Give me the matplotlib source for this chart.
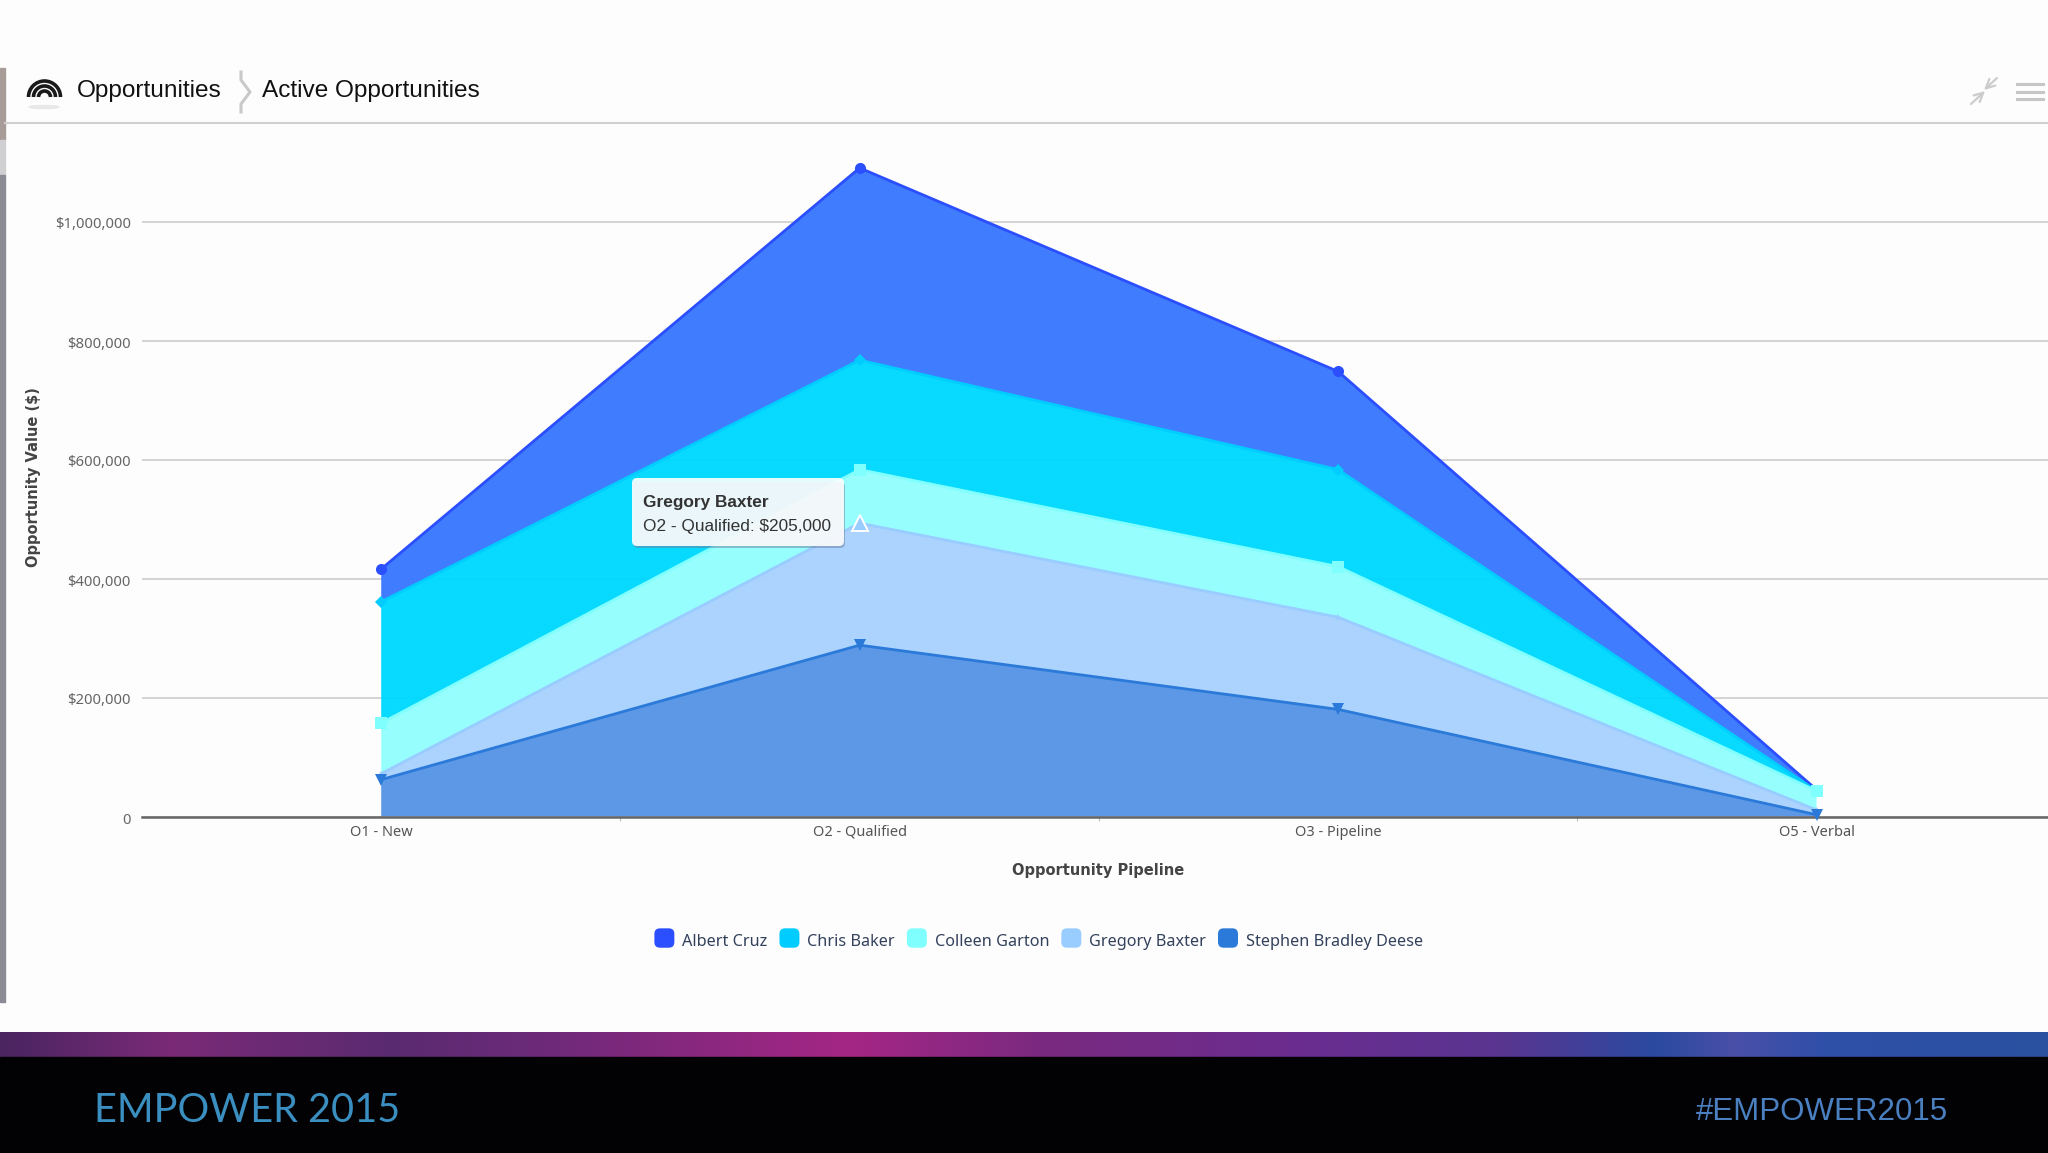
import matplotlib
matplotlib.use("Agg")
import matplotlib.pyplot as plt
import matplotlib.patches as mpatches
from matplotlib.colors import LinearSegmentedColormap
from matplotlib.legend_handler import HandlerBase
from matplotlib.ticker import FuncFormatter
from matplotlib.transforms import Affine2D
import numpy as np

# --- DATA ---
stages = ["O1 - New", "O2 - Qualified", "O3 - Pipeline", "O5 - Verbal"]
albert_cruz = [55000, 323000, 165000, 2000]
chris_baker = [204000, 184000, 163000, 0]
colleen_garton = [85000, 90000, 85000, 32000]
gregory_baxter = [10000, 205000, 155000, 8000]
stephen_deese = [62000, 288000, 180000, 3000]
y_ticks = [0, 200000, 400000, 600000, 800000, 1000000]

# bottom of the stack first
names = ["Stephen Bradley Deese", "Gregory Baxter", "Colleen Garton", "Chris Baker", "Albert Cruz"]
series = [stephen_deese, gregory_baxter, colleen_garton, chris_baker, albert_cruz]
line_colors = ["#2b7ad9", "#99ccff", "#80ffff", "#00ccff", "#2b4fff"]
fill_colors = ["#5795e6", "#a9d2ff", "#94ffff", "#00d8ff", "#3a78ff"]
markers = ["v", "^", "s", "D", "o"]
marker_sizes = [8, 4, 9, 6, 8]

band_colors = ["#4a2560", "#7b2a78", "#5a2a70", "#6a2a78", "#a52685", "#7a2a80",
               "#6a2d90", "#5a3590", "#2a4aa0", "#4a4fa8", "#2f50a8", "#2a50a0"]
band_stops = [0, 0.083, 0.19, 0.255, 0.415, 0.51, 0.638, 0.733, 0.81, 0.848, 0.893, 1]

W, H = 2048, 1153
chart_font = "Noto Sans"
head_font = "Liberation Sans"


class RoundHandle(HandlerBase):
    def create_artists(self, legend, orig, x, y, width, height, fontsize, trans):
        box = mpatches.FancyBboxPatch((x + 3, y), width - 6, height + 1,
                                      boxstyle="round,pad=2,rounding_size=4",
                                      facecolor=orig.get_facecolor(), edgecolor="none",
                                      transform=trans)
        return [box]


fig = plt.figure(figsize=(W / 100, H / 100), dpi=100, facecolor="#fdfdfd")

# page furniture, in pixel coordinates
bg = fig.add_axes([0, 0, 1, 1], zorder=0)
bg.axis("off")

bg.add_patch(mpatches.Rectangle((0, 1057), W, H - 1057, color="#020204"))
band = LinearSegmentedColormap.from_list("band", list(zip(band_stops, band_colors)))
bg.imshow(np.linspace(0, 1, 1024)[None, :], cmap=band, extent=(0, W, 1057, 1032), aspect="auto")
bg.set_xlim(0, W)
bg.set_ylim(H, 0)

bg.add_patch(mpatches.Rectangle((0, 68), 5, 72, color="#a89c98"))
bg.add_patch(mpatches.Rectangle((0, 140), 5, 35, color="#d0d0d2"))
bg.add_patch(mpatches.Rectangle((0, 175), 5, 827, color="#8b8b96"))

bg.plot([5, W], [122.5, 122.5], color="#cfcfcf", lw=1.5)
for r in [16, 11, 6]:
    bg.add_patch(mpatches.Arc((44.5, 97), r * 2, r * 2, theta1=180, theta2=360, color="#1a1a1a", lw=2.6))
bg.add_patch(mpatches.Ellipse((44, 107), 30, 3, color="#e8e8e8"))
bg.plot([241, 241, 250, 241, 241], [72, 80, 92, 104, 112], color="#c9c9c9", lw=2.2)
bg.text(77, 90.5, "Opportunities", fontsize=17.6, family=head_font, color="#111111", va="center")
bg.text(262, 90.5, "Active Opportunities", fontsize=17.6, family=head_font, color="#111111", va="center")

for y in [84, 92, 99]:
    bg.plot([2017, 2043], [y, y], color="#c6c6c6", lw=2.2)
arrow = dict(arrowstyle="->", color="#cccccc", lw=1.6, mutation_scale=16, shrinkA=0, shrinkB=0)
bg.annotate("", xy=(1985, 91), xytext=(1971, 104), arrowprops=arrow)
bg.annotate("", xy=(1984, 90), xytext=(1997, 78), arrowprops=arrow)

bg.text(94, 1110, "EMPOWER 2015", fontsize=28.5, family="Lato", color="#3a8fc0", va="center")
bg.text(1696, 1112, "#EMPOWER2015", fontsize=22.5, family=head_font, color="#4a7fc0", va="center")

# --- CHART ---
ax = fig.add_axes([142 / W, (H - 816.5) / H, (W - 142) / W, (816.5 - 123) / H], zorder=2)
ax.patch.set_alpha(0)
x = np.arange(len(stages))

ax.stackplot(x, series, colors=fill_colors, alpha=0.97, lw=0, zorder=2)
tops = np.cumsum(series, axis=0)
# top of the stack first, so the lower series sit over it
for i in range(len(series) - 1, -1, -1):
    ax.plot(x, tops[i], color=line_colors[i], lw=2, marker=markers[i], ms=marker_sizes[i],
            mew=0, clip_on=False, zorder=3)

# hovered point
ax.plot(x[1], tops[1][1], marker="^", ms=12, mfc="#99ccff", mec="white", mew=1.4, zorder=4)

ax.set_xlim(-0.5, (W - 381) / 478.5)
ax.set_ylim(0, (816.5 - 123) / 595 * 1000000)
ax.set_xticks(x)
ax.set_xticklabels(stages)
ax.set_xticks(np.arange(len(stages) - 1) + 0.5, minor=True)
ax.set_yticks(y_ticks)
ax.yaxis.set_major_formatter(FuncFormatter(lambda v, p: "0" if v == 0 else f"${v:,.0f}"))
ax.grid(axis="y", color="#c8c8c8", lw=1.1, zorder=1)
ax.set_axisbelow(True)
for side in ["top", "left", "right"]:
    ax.spines[side].set_visible(False)
ax.spines["bottom"].set_color("#666666")
ax.spines["bottom"].set_linewidth(1.8)
ax.spines["bottom"].set_zorder(2.5)
ax.tick_params(axis="x", which="major", length=0, pad=6, labelsize=10.5, labelcolor="#555555")
ax.tick_params(axis="x", which="minor", length=3, width=0.8, color="#bbbbbb")
ax.tick_params(axis="y", length=0, pad=8, labelsize=10.7, labelcolor="#666666")
for label in ax.get_xticklabels() + ax.get_yticklabels():
    label.set_family(chart_font)
for label in ax.get_yticklabels():
    label.set_transform(label.get_transform() + Affine2D().translate(0, -1.5))

fig.text(34 / W, 1 - 477 / H, "Opportunity Value ($)", rotation=90, fontsize=10.5, family="DejaVu Sans",
         weight="bold", color="#444444", ha="center", va="center")
fig.text(1098 / W, 1 - 871 / H, "Opportunity Pipeline", fontsize=10.5, family="DejaVu Sans",
         weight="bold", color="#444444", ha="center", va="center")

handles = [mpatches.Patch(facecolor=c, label=n) for c, n in zip(line_colors[::-1], names[::-1])]
leg = fig.legend(handles=handles, loc="center", bbox_to_anchor=(1038 / W, 1 - 941.5 / H), ncol=5, frameon=False,
                 handler_map={mpatches.Patch: RoundHandle()}, prop={"family": chart_font, "size": 11.7},
                 handlelength=1.4, handleheight=0.8, handletextpad=0.4, columnspacing=0.65, borderpad=0)
for t in leg.get_texts():
    t.set_color("#33415c")

# --- TOOLTIP ---
over = fig.add_axes([0, 0, 1, 1], zorder=5)
over.set_xlim(0, W)
over.set_ylim(H, 0)
over.axis("off")
over.add_patch(mpatches.FancyBboxPatch((634, 482), 208, 62, boxstyle="round,pad=2,rounding_size=5",
                                       facecolor="#6a7fa0", edgecolor="none", alpha=0.5, zorder=1,
                                       transform=over.transData + Affine2D().translate(1, -2)))
over.add_patch(mpatches.FancyBboxPatch((634, 480), 208, 64, boxstyle="round,pad=2,rounding_size=5",
                                       facecolor="white", edgecolor="none", alpha=0.9, zorder=2))
over.text(643, 503, "Gregory Baxter", fontsize=12.4, family=head_font, weight="bold", color="#333333",
          va="center", zorder=3)
over.text(643, 526, "O2 - Qualified: $205,000", fontsize=12.4, family=head_font, color="#333333",
          va="center", zorder=3)

fig.savefig("out.png", dpi=100, facecolor=fig.get_facecolor())
